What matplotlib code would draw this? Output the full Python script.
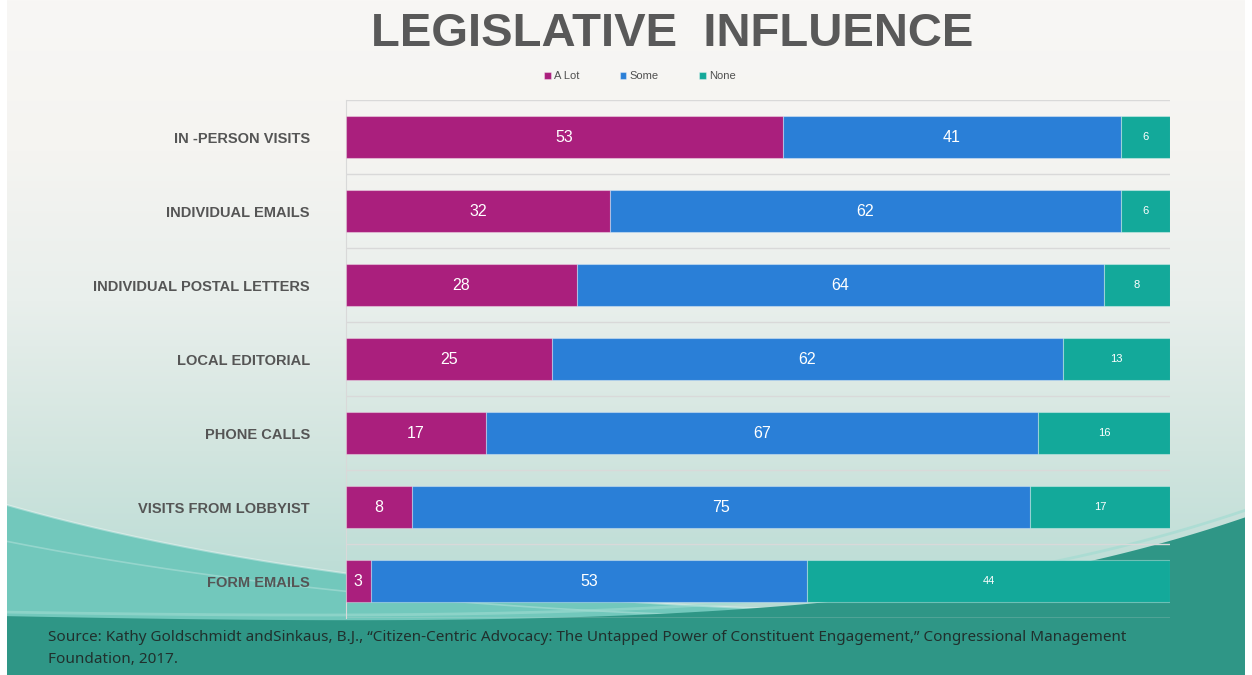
import numpy as np
import matplotlib
matplotlib.use("Agg")
import matplotlib.pyplot as plt
from matplotlib.colors import to_rgb
from math import comb

categories = ["IN -PERSON VISITS", "INDIVIDUAL EMAILS", "INDIVIDUAL POSTAL LETTERS",
              "LOCAL EDITORIAL", "PHONE CALLS", "VISITS FROM LOBBYIST", "FORM EMAILS"]
series = ["A Lot", "Some", "None"]
a_lot = [53, 32, 28, 25, 17, 8, 3]
some = [41, 62, 64, 62, 67, 75, 53]
none = [6, 6, 8, 13, 16, 17, 44]

colors = ["#aa1f7d", "#2a7fd7", "#13a99a"]
label_sizes = [11.5, 11.5, 8]

W, H = 1252, 675
fig = plt.figure(figsize=(W / 100, H / 100), dpi=100)

# slide background (pixel coordinates, y downward)
bg = fig.add_axes([0, 0, 1, 1], zorder=0)
bg.set_xlim(0, W)
bg.set_ylim(H, 0)
bg.axis("off")

stops_y = [0, 150, 300, 450, 560, 675]
stops_c = ["#f8f7f5", "#f5f4f1", "#e9efec", "#d2e5df", "#bfded7", "#a9d6cd"]
rgb = np.array([to_rgb(c) for c in stops_c])
yy = np.arange(H)
grad = np.stack([np.interp(yy, stops_y, rgb[:, i]) for i in range(3)], axis=-1)
bg.imshow(grad[:, None, :], extent=[0, W, H, 0], aspect="auto", zorder=0)


def bezier(pts, n=200):
    pts = np.asarray(pts, float)
    t = np.linspace(0, 1, n)[:, None]
    k = len(pts) - 1
    out = sum(comb(k, i) * (1 - t) ** (k - i) * t ** i * pts[i] for i in range(k + 1))
    return out[:, 0], out[:, 1]


# medium teal swoosh on the left
x1, y1 = bezier([(0, 503), (300, 590), (700, 615), (1000, 612)])
bg.fill(np.r_[x1, W, 0], np.r_[y1, H, H], color="#72c8bc", zorder=1, lw=0)
bg.plot(x1, y1, color="white", alpha=0.35, lw=1.5, zorder=2)
x1b, y1b = bezier([(0, 540), (300, 600), (650, 622), (950, 618)])
bg.plot(x1b, y1b, color="white", alpha=0.25, lw=1.2, zorder=2)

# darker teal band at the bottom, rising on the right
x2, y2 = bezier([(0, 616), (600, 628), (950, 620), (W, 515)])
bg.fill(np.r_[x2, W, 0], np.r_[y2, H, H], color="#2f9686", zorder=3, lw=0)
x3, y3 = bezier([(0, 612), (600, 622), (950, 612), (W, 508)])
bg.plot(x3, y3, color="#9edbd1", alpha=0.6, lw=2, zorder=4)

# white slide margins
bg.fill([0, 7, 7, 0], [0, 0, H, H], color="white", zorder=5, lw=0)
bg.fill([W - 7, W, W, W - 7], [0, 0, H, H], color="white", zorder=5, lw=0)

# chart
ax = fig.add_axes([346 / W, 1 - 618 / H, (1170 - 346) / W, (618 - 100) / H], zorder=2)
ax.patch.set_alpha(0)
ypos = np.arange(len(categories))
left = np.zeros(len(categories))
handles = []
for name, vals, col, fs in zip(series, [a_lot, some, none], colors, label_sizes):
    bars = ax.barh(ypos, vals, left=left, height=0.57, color=col,
                   edgecolor=(1, 1, 1, 0.35), linewidth=0.8, label=name, zorder=3)
    ax.bar_label(bars, labels=[str(v) for v in vals], label_type="center",
                 color="white", fontsize=fs, family="Liberation Sans")
    left += np.array(vals)
    handles.append(bars)

ax.set_xlim(0, 100)
ax.set_ylim(len(categories) - 0.5, -0.5)
for b in np.arange(-0.5, len(categories), 1.0):
    ax.axhline(b, color="#d9d9d9", lw=1, zorder=1)
ax.set_xticks([])
ax.set_yticks(ypos)
ax.set_yticklabels(categories, fontsize=10.5, fontweight="bold",
                   color="#555555", family="Liberation Sans")
ax.tick_params(axis="y", length=0, pad=26)
for s in ["top", "right", "bottom"]:
    ax.spines[s].set_visible(False)
ax.spines["left"].set_color("#d9d9d9")

fig.legend(handles=handles, labels=series, loc="center",
           bbox_to_anchor=(640 / W, 1 - 76 / H), ncol=3, frameon=False,
           prop={"family": "Liberation Sans", "size": 8}, labelcolor="#505050",
           handlelength=0.6, handleheight=0.6, handletextpad=0.3, columnspacing=3.6)

fig.text(672 / W, 1 - 46 / H, "LEGISLATIVE  INFLUENCE", ha="center", va="baseline",
         fontsize=34, fontweight="bold", color="#595959", family="Liberation Sans")

source = ("Source: Kathy Goldschmidt andSinkaus, B.J., \u201cCitizen-Centric Advocacy: "
          "The Untapped Power of Constituent Engagement,\u201d Congressional Management\n"
          "Foundation, 2017.")
fig.text(48 / W, 1 - 630 / H, source, ha="left", va="top", fontsize=11,
         color="#20302d", family="Noto Sans", linespacing=1.6)

fig.savefig("out.png", dpi=100)
